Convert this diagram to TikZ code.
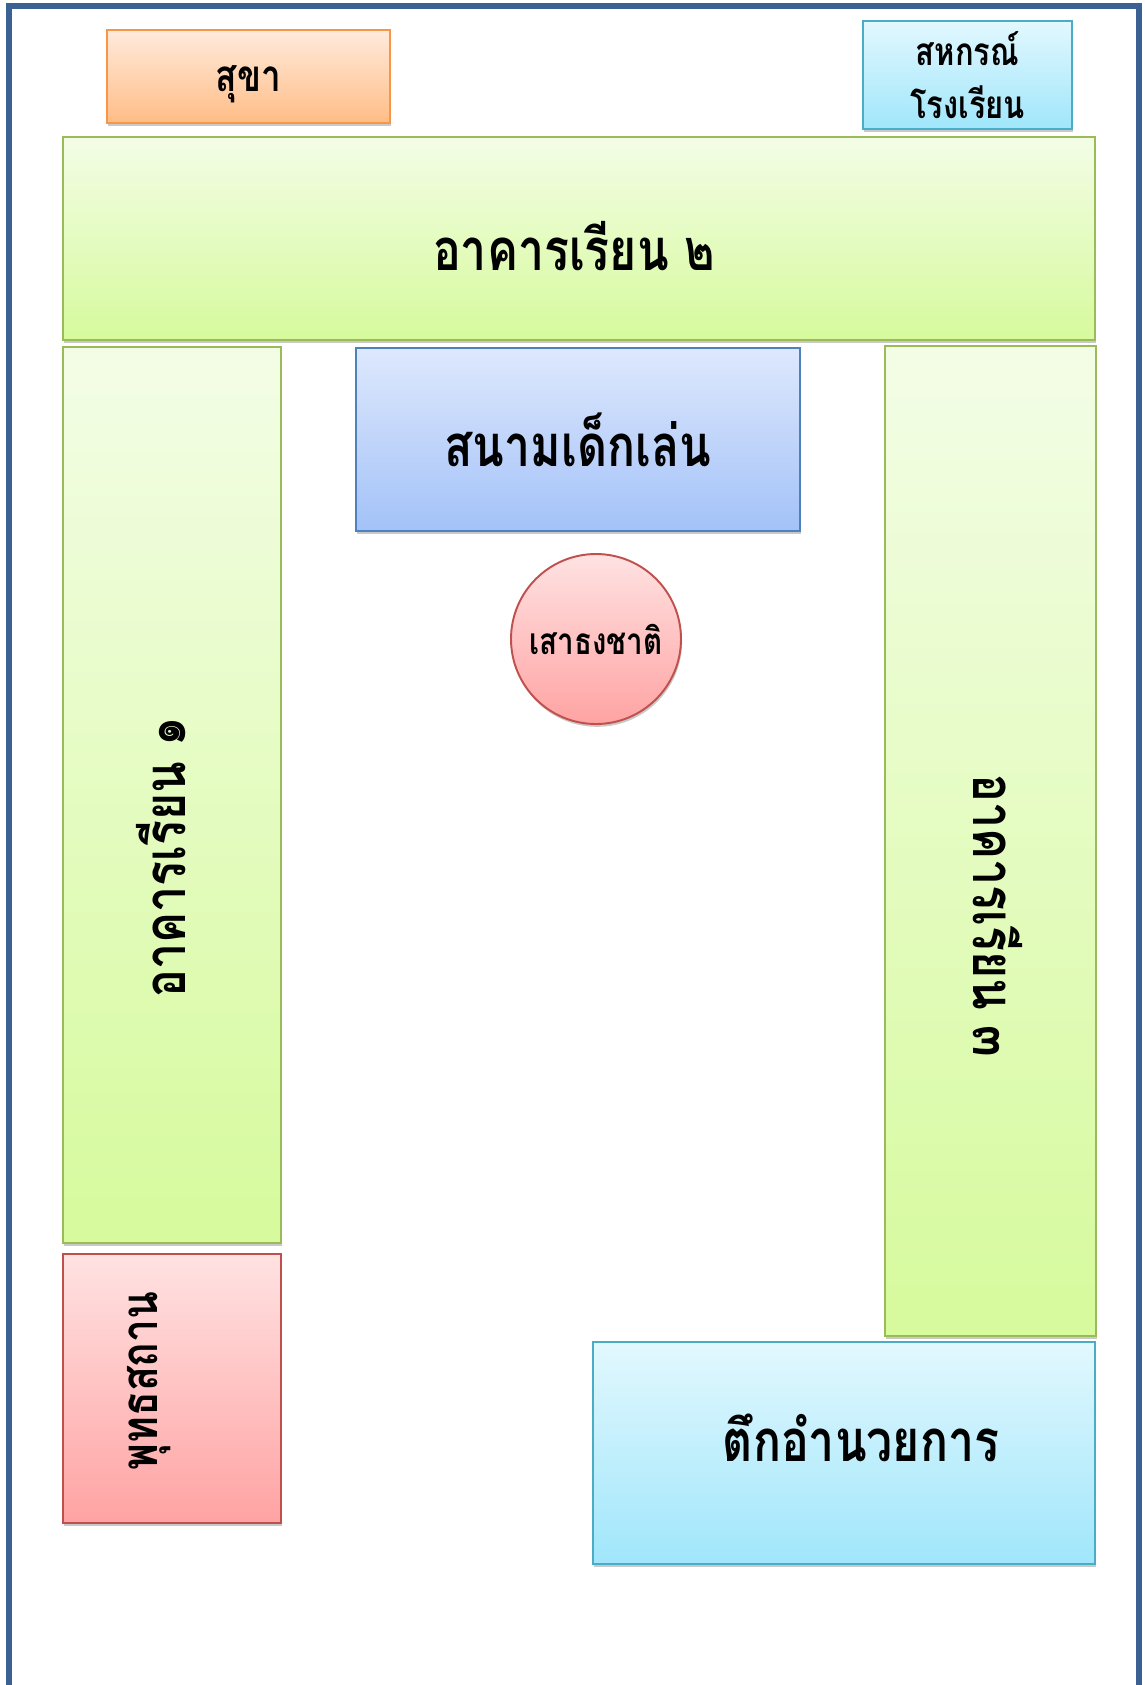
\documentclass[tikz,border=0pt]{standalone}
\usepackage{fontspec}
\newfontfamily\thaifont[Script=Thai, FakeStretch=0.8]{Loma}
\usetikzlibrary{positioning,calc,shadows}
\definecolor{frameblue}{HTML}{3B6192}
\definecolor{greenline}{HTML}{9BBB59}
\definecolor{greentop}{HTML}{F3FDE6}
\definecolor{greenbot}{HTML}{D6FA9C}
\definecolor{orangeline}{HTML}{F79646}
\definecolor{orangetop}{HTML}{FFEADC}
\definecolor{orangebot}{HTML}{FFBD86}
\definecolor{cyanline}{HTML}{4BACC6}
\definecolor{cyantop}{HTML}{E2F8FE}
\definecolor{cyanbot}{HTML}{A0E6FB}
\definecolor{blueline}{HTML}{4F81BD}
\definecolor{bluetop}{HTML}{DEE8FD}
\definecolor{bluebot}{HTML}{A3C2F8}
\definecolor{redline}{HTML}{C0504D}
\definecolor{redtop}{HTML}{FFE2E2}
\definecolor{redbot}{HTML}{FFA3A3}
\newcommand\bigtext{\fontsize{33}{40}\selectfont}

\begin{document}
\begin{tikzpicture}[every node/.style={font=\thaifont\bfseries, inner sep=0pt},
  room/.style={draw, line width=1.1pt,
    drop shadow={shadow xshift=0.6pt, shadow yshift=-1.6pt, opacity=0.35, fill=black!60}},
  greenroom/.style={room, draw=greenline, top color=greentop, bottom color=greenbot},
  orangeroom/.style={room, draw=orangeline, top color=orangetop, bottom color=orangebot},
  cyanroom/.style={room, draw=cyanline, top color=cyantop, bottom color=cyanbot},
  blueroom/.style={room, draw=blueline, top color=bluetop, bottom color=bluebot},
  redroom/.style={room, draw=redline, top color=redtop, bottom color=redbot}]

	%% page size and frame
	\useasboundingbox (0,0) rectangle (22.88,-33.7);
	\fill[white] (0,0) rectangle (22.88,-33.7);
	\draw[frameblue, line width=3.2pt] (0.185,-34) -- (0.185,-0.12) -- (22.78,-0.12) -- (22.78,-34);

	% top row
	\node[orangeroom, minimum width=5.66cm, minimum height=1.86cm] (sukha) at (4.97,-1.53) {};
	\node[font=\thaifont\bfseries\fontsize{25}{30}\selectfont] (sukhatext) at ($(sukha.center)+(0,-0.16)$) {สุขา};
	\node[cyanroom, minimum width=4.18cm, minimum height=2.16cm, align=center,
	  font=\thaifont\bfseries\fontsize{22}{30}\selectfont]
	  (coop) at (19.35,-1.5) {สหกรณ์\\โรงเรียน};

	% buildings
	\node[greenroom, minimum width=20.64cm, minimum height=4.06cm] (bldgtwo) at (11.58,-4.77) {};
	\node[greenroom, minimum width=4.36cm, minimum height=17.92cm] (bldgone) at (3.44,-15.9) {};
	\node[greenroom, minimum width=4.22cm, minimum height=19.8cm] (bldgthree) at (19.81,-16.82) {};
	\node[redroom, minimum width=4.36cm, minimum height=5.38cm] (shrine) at (3.44,-27.77) {};
	\node[cyanroom, minimum width=10.04cm, minimum height=4.44cm] (office) at (16.88,-29.06) {};

	% texts, some rotated or shifted
	\node[font=\thaifont\bfseries\bigtext] (bldgtwotext) at ($(bldgtwo.center)+(-0.1,-0.16)$) {อาคารเรียน ๒};
	\node[rotate=90, font=\thaifont\bfseries\bigtext] (bldgonetext) at ($(bldgone.center)+(-0.22,-1.24)$) {อาคารเรียน ๑};
	\node[rotate=-90, font=\thaifont\bfseries\bigtext] (bldgthreetext) at ($(bldgthree.center)+(0.14,-1.5)$) {อาคารเรียน ๓};
	\node[rotate=90, font=\thaifont\bfseries\fontsize{29}{34}\selectfont] (shrinetext) at ($(shrine.center)+(-0.45,0.15)$) {พุทธสถาน};
	\node[font=\thaifont\bfseries\bigtext] (officetext) at ($(office.center)+(0.34,0.3)$) {ตึกอำนวยการ};

	% middle
	\node[blueroom, minimum width=8.88cm, minimum height=3.66cm, font=\thaifont\bfseries\bigtext]
	  (playground) at (11.56,-8.79) {สนามเด็กเล่น};
	\node[redroom, circle, minimum size=3.4cm, font=\thaifont\bfseries\fontsize{21}{26}\selectfont]
	  (flagpole) at (11.92,-12.78) {เสาธงชาติ};

\end{tikzpicture}
\end{document}
